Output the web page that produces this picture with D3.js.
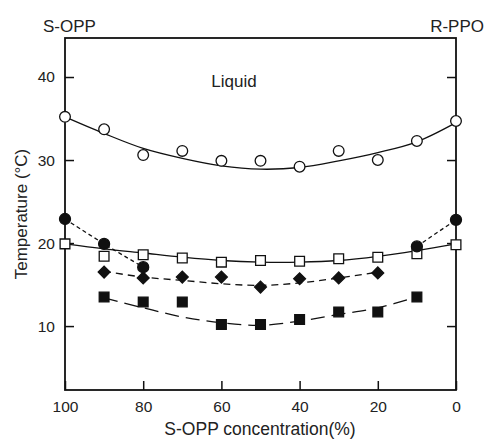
<!DOCTYPE html>
<html lang="en">
<head>
<meta charset="UTF-8" />
<title>S-OPP / R-PPO</title>
<style>
  body { margin: 0; background: #fff; }
  .chart text { font-family: "Liberation Sans", Arial, sans-serif; fill: #222; }
</style>
</head>
<body>
<div class="chart"></div>
<script src="https://d3js.org/d3.v7.min.js"></script>
<script>
// concentration of S-OPP (%)
const conc = [100, 90, 80, 70, 60, 50, 40, 30, 20, 10, 0];

// open circles (liquidus) and its fitted curve
const openCircle = [35.2, 33.7, 30.6, 31.1, 29.9, 29.9, 29.2, 31.1, 30.0, 32.3, 34.7];
const openCircleFit = [35.2, 33.2, 31.4, 30.2, 29.3, 28.9, 29.1, 29.9, 30.9, 32.2, 34.5];

// filled circles, left and right branches
const filledCircleLeftX = [100, 90, 80];
const filledCircleLeft = [22.9, 19.9, 17.1];
const filledCircleRightX = [10, 0];
const filledCircleRight = [19.6, 22.8];

// open squares and fit
const openSquare = [19.9, 18.4, 18.6, 18.2, 17.7, 17.9, 17.8, 18.1, 18.3, 18.7, 19.8];
const openSquareFit = [19.9, 19.3, 18.8, 18.3, 17.9, 17.7, 17.7, 17.9, 18.4, 19.1, 19.9];

// filled diamonds and fit
const diamondX = [90, 80, 70, 60, 50, 40, 30, 20];
const diamond = [16.5, 15.8, 15.9, 15.9, 14.7, 15.7, 15.8, 16.4];
const diamondFit = [16.6, 15.9, 15.5, 15.1, 14.9, 15.2, 15.8, 16.5];

// filled squares and fit
const filledSquareX = [90, 80, 70, 60, 50, 40, 30, 20, 10];
const filledSquare = [13.5, 12.9, 12.9, 10.2, 10.2, 10.8, 11.7, 11.7, 13.5];
const filledSquareFit = [13.4, 12.2, 11.1, 10.4, 10.1, 10.6, 11.4, 12.2, 13.5];

const xTicks = [100, 80, 60, 40, 20, 0];
const yTicks = [10, 20, 30, 40];

const width = 488, height = 439;
const mLeft = 65, mRight = 456, mTop = 38, mBottom = 390;

const svg = d3.select('.chart').append('svg')
  .attr('width', width).attr('height', height);

const x = d3.scaleLinear().domain([100, 0]).range([mLeft, mRight]);
const y = d3.scaleLinear().domain([2.3, 44.7]).range([mBottom, mTop]);

// frame
svg.append('rect')
  .attr('x', mLeft).attr('y', mTop)
  .attr('width', mRight - mLeft).attr('height', mBottom - mTop)
  .attr('fill', 'none').attr('stroke', '#111').attr('stroke-width', 1.8);

// axes (ticks pointing inward)
const yAxis = svg.append('g')
  .attr('transform', `translate(${mLeft},0)`)
  .call(d3.axisLeft(y).tickValues(yTicks).tickSizeInner(-9).tickSizeOuter(0).tickPadding(10));
yAxis.select('.domain').remove();
yAxis.selectAll('line').attr('stroke', '#111').attr('stroke-width', 1.5);
yAxis.selectAll('text').style('font-size', '15.5px');

const yAxisR = svg.append('g')
  .attr('transform', `translate(${mRight},0)`)
  .call(d3.axisRight(y).tickValues(yTicks).tickSizeInner(-9).tickSizeOuter(0).tickFormat(''));
yAxisR.select('.domain').remove();
yAxisR.selectAll('line').attr('stroke', '#111').attr('stroke-width', 1.5);

const xAxis = svg.append('g')
  .attr('transform', `translate(0,${mBottom})`)
  .call(d3.axisBottom(x).tickValues(xTicks).tickSizeInner(-9).tickSizeOuter(0).tickPadding(11));
xAxis.select('.domain').remove();
xAxis.selectAll('line').attr('stroke', '#111').attr('stroke-width', 1.5);
xAxis.selectAll('text').style('font-size', '15.5px');

// labels
svg.append('text').attr('x', 43).attr('y', 32).style('font-size', '17px').text('S-OPP');
svg.append('text').attr('x', 484).attr('y', 32).attr('text-anchor', 'end').style('font-size', '17px').text('R-PPO');
svg.append('text').attr('x', 234).attr('y', 87).attr('text-anchor', 'middle').style('font-size', '17px').text('Liquid');
svg.append('text').attr('x', 260).attr('y', 435).attr('text-anchor', 'middle').style('font-size', '17.5px').text('S-OPP concentration(%)');
svg.append('text')
  .attr('transform', `translate(27,${(mTop + mBottom) / 2}) rotate(-90)`)
  .attr('text-anchor', 'middle').style('font-size', '17px').text('Temperature (°C)');

// curves
const line = d3.line().x(d => x(d[0])).y(d => y(d[1])).curve(d3.curveCatmullRom);
function drawLine(xs, ys, dash) {
  svg.append('path')
    .datum(xs.map((v, i) => [v, ys[i]]))
    .attr('d', line)
    .attr('fill', 'none').attr('stroke', '#111').attr('stroke-width', 1.3)
    .attr('stroke-dasharray', dash);
}
drawLine(conc, openCircleFit, null);
drawLine(conc, openSquareFit, null);
drawLine(filledCircleLeftX, filledCircleLeft, '4,3');
drawLine(filledCircleRightX, filledCircleRight, '4,3');
drawLine(diamondX, diamondFit, '7,5');
drawLine(filledSquareX, filledSquareFit, '14,7');

// markers
function drawMarks(xs, ys, type, size, fill, rotate) {
  svg.append('g').selectAll('path')
    .data(xs.map((v, i) => [v, ys[i]]))
    .join('path')
    .attr('d', d3.symbol().type(type).size(size))
    .attr('transform', d => `translate(${x(d[0])},${y(d[1])}) rotate(${rotate || 0})`)
    .attr('fill', fill).attr('stroke', '#111').attr('stroke-width', 1.3);
}
drawMarks(conc, openCircle, d3.symbolCircle, 90, '#fff');
drawMarks(conc, openSquare, d3.symbolSquare, 95, '#fff');
drawMarks(filledSquareX, filledSquare, d3.symbolSquare, 95, '#111');
drawMarks(diamondX, diamond, d3.symbolSquare, 70, '#111', 45);
drawMarks(filledCircleLeftX, filledCircleLeft, d3.symbolCircle, 95, '#111');
drawMarks(filledCircleRightX, filledCircleRight, d3.symbolCircle, 95, '#111');
</script>
</body>
</html>
